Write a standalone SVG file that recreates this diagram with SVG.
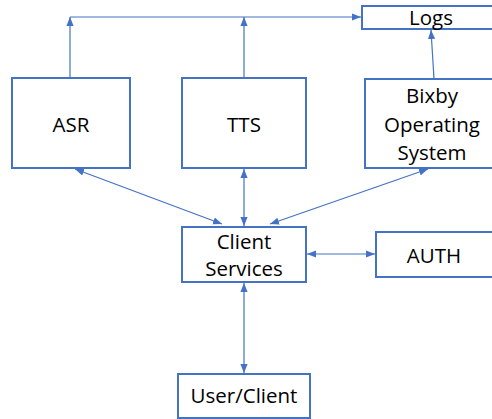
<svg xmlns="http://www.w3.org/2000/svg" width="492" height="419" viewBox="0 0 492 419">
<style>
.box{fill:#fff;stroke:#4472C4;stroke-width:2}
.lbl{font-family:"Open Sans","Liberation Sans",sans-serif;font-size:20.5px;fill:#000;text-anchor:middle}
.con{fill:none;stroke:#4472C4;stroke-width:1.2}
</style>
<defs>
<marker id="ah" viewBox="0 0 10 8" refX="10" refY="4" markerWidth="9" markerHeight="8" markerUnits="userSpaceOnUse" orient="auto-start-reverse">
<path d="M0,0 L10,4 L0,8 z" fill="#4472C4"/>
</marker>
</defs>
<g id="connectors">
<path class="con" d="M70,17 L361,17" marker-end="url(#ah)"/>
<path class="con" d="M70,78 L70,17" marker-end="url(#ah)"/>
<path class="con" d="M244,78 L244,17" marker-end="url(#ah)"/>
<path class="con" d="M434,79 L431,30" marker-end="url(#ah)"/>
<path class="con" d="M75,169 L222,224" marker-start="url(#ah)" marker-end="url(#ah)"/>
<path class="con" d="M244,169 L244,226" marker-start="url(#ah)" marker-end="url(#ah)"/>
<path class="con" d="M428,169 L270,224" marker-start="url(#ah)" marker-end="url(#ah)"/>
<path class="con" d="M307,254 L375,254" marker-start="url(#ah)" marker-end="url(#ah)"/>
<path class="con" d="M244,283 L244,373" marker-start="url(#ah)" marker-end="url(#ah)"/>
</g>
<g id="logs">
<rect class="box" x="362" y="6" width="138" height="23"/>
<text class="lbl" x="431" y="25">Logs</text>
</g>
<g id="asr">
<rect class="box" x="12" y="78" width="118" height="90"/>
<text class="lbl" x="71" y="132">ASR</text>
</g>
<g id="tts">
<rect class="box" x="182" y="78" width="124" height="90"/>
<text class="lbl" x="244" y="132">TTS</text>
</g>
<g id="bixby">
<rect class="box" x="365" y="79" width="136" height="89"/>
<text class="lbl" x="432" y="103">Bixby</text>
<text class="lbl" x="432" y="132">Operating</text>
<text class="lbl" x="432" y="160">System</text>
</g>
<g id="client">
<rect class="box" x="182" y="227" width="124" height="55"/>
<text class="lbl" x="244" y="249">Client</text>
<text class="lbl" x="244" y="276">Services</text>
</g>
<g id="auth">
<rect class="box" x="376" y="232" width="124" height="45"/>
<text class="lbl" x="434" y="263">AUTH</text>
</g>
<g id="user">
<rect class="box" x="178" y="374" width="132" height="44"/>
<text class="lbl" x="244" y="403">User/Client</text>
</g>
</svg>
